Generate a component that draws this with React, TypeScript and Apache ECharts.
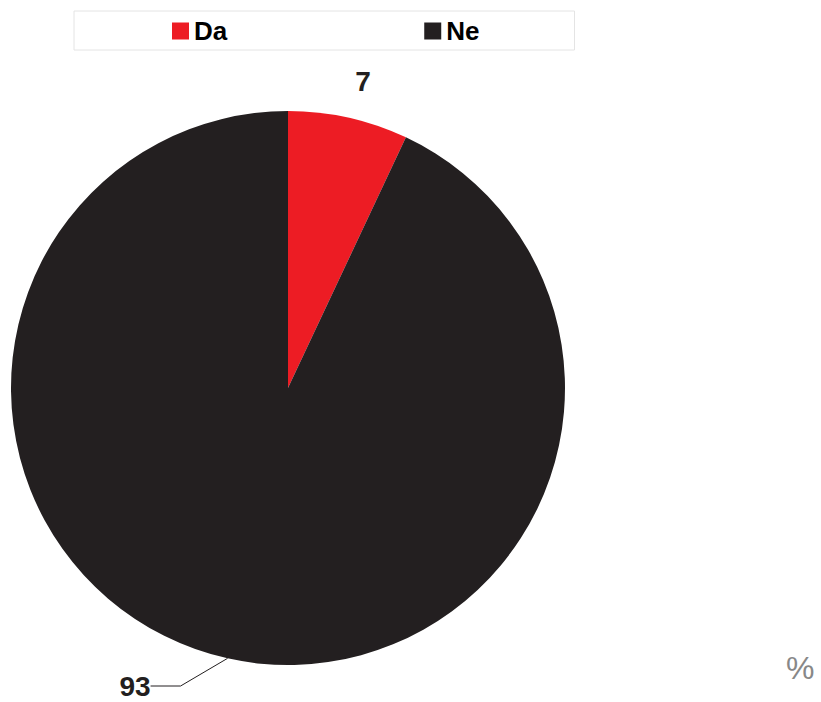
import React, { useEffect, useRef } from "react";
import * as echarts from "echarts";

const categories = ["Da", "Ne"];
const values = [7, 93];
const colors = ["#ED1C24", "#231F20"];
const unitLabel = "%";

export default function App() {
  const ref = useRef<HTMLDivElement>(null);
  useEffect(() => {
    if (!ref.current) return;
    const chart = echarts.init(ref.current, undefined, { renderer: "svg" });
    const font = "'Liberation Sans', Arial, sans-serif";
    chart.setOption({
      animation: false,
      backgroundColor: "#ffffff",
      legend: {
        left: 74,
        top: 11,
        orient: "horizontal",
        data: categories,
        itemWidth: 17,
        itemHeight: 17,
        itemGap: 197,
        padding: [7, 95, 6, 98],
        borderColor: "#e4e4e4",
        borderWidth: 1,
        icon: "rect",
        textStyle: { fontFamily: font, fontWeight: "bold", fontSize: 26, color: "#000" },
      },
      graphic: [
        {
          type: "text",
          left: 786,
          top: 652,
          style: { text: unitLabel, fontFamily: font, fontSize: 32, fill: "#888888" },
        },
      ],
      series: [
        {
          type: "pie",
          center: [288, 388],
          radius: 277,
          startAngle: 90,
          clockwise: true,
          itemStyle: { borderWidth: 0 },
          label: {
            show: true,
            position: "outside",
            formatter: "{c}",
            fontFamily: font,
            fontWeight: "bold",
            fontSize: 28,
            color: "#231F20",
          },
          labelLine: { show: true, lineStyle: { color: "#231F20", width: 1 } },
          labelLayout: (params: any) => {
            if (params.dataIndex === 0) {
              return { x: 363, y: 81, align: "center", verticalAlign: "middle" };
            }
            return { x: 135, y: 686, align: "center", verticalAlign: "middle" };
          },
          data: categories.map((name, i) => ({
            name,
            value: values[i],
            itemStyle: { color: colors[i] },
            labelLine: { show: i === 1 },
          })),
        },
      ],
    });
    return () => chart.dispose();
  }, []);
  return <div ref={ref} style={{ position: "absolute", left: 0, top: 0, width: 821, height: 702 }} />;
}
